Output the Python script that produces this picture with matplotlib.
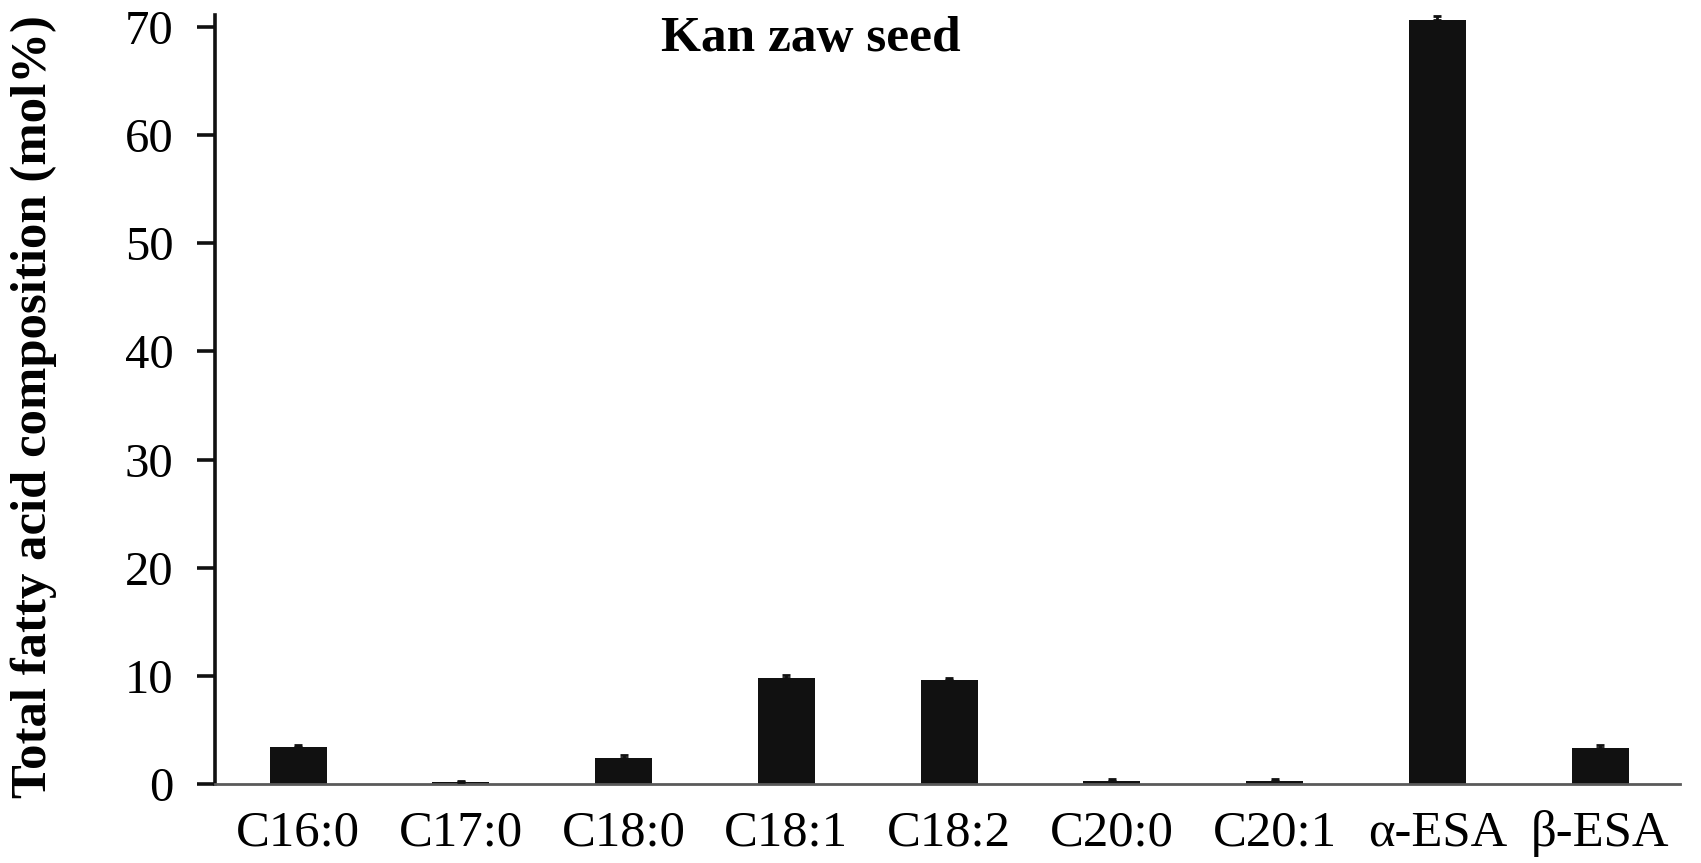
import matplotlib
matplotlib.use("Agg")
import matplotlib.pyplot as plt
import numpy as np

categories = ["C16:0", "C17:0", "C18:0", "C18:1", "C18:2", "C20:0", "C20:1", "α-ESA", "β-ESA"]
values = [3.4, 0.2, 2.4, 9.8, 9.6, 0.3, 0.3, 70.6, 3.3]
errors = [0.25, 0.08, 0.3, 0.3, 0.2, 0.12, 0.12, 0.45, 0.3]
yticks = [0, 10, 20, 30, 40, 50, 60, 70]

plt.rcParams['font.family'] = ['Liberation Serif', 'DejaVu Serif']

W, H = 1701, 863
fig = plt.figure(figsize=(W / 100, H / 100), dpi=100)
ax = fig.add_axes([215 / W, 1 - 784 / H, (1680 - 215) / W, (784 - 15) / H])

x = np.arange(len(categories))
ax.bar(x, values, width=0.35, color="#111111", zorder=2)
ax.errorbar(x, values, yerr=[np.zeros(len(errors)), errors], fmt="none",
            ecolor="#111111", elinewidth=2, capsize=3, capthick=2, zorder=3)

ax.set_xlim(-0.51, 8.49)
ax.set_ylim(0, 71.1)
ax.set_yticks(yticks)
ax.set_xticks(x)
ax.set_xticklabels(categories)

for s in ["top", "right"]:
    ax.spines[s].set_visible(False)
ax.spines["left"].set_linewidth(2.6)
ax.spines["left"].set_color("#111111")
ax.spines["bottom"].set_linewidth(2.0)
ax.spines["bottom"].set_color("#5a5a5a")

ax.tick_params(axis="y", direction="out", length=13, width=2.6, color="#111111",
               labelsize=35, pad=17)
ax.tick_params(axis="x", length=0, labelsize=36.5, pad=19)

fig.text(811 / W, 1 - 39 / H, "Kan zaw seed", fontsize=37, fontweight="bold",
         ha="center", va="center")
fig.text(34 / W, 1 - 407 / H, "Total fatty acid composition (mol%)", fontsize=36.5,
         fontweight="bold", rotation=90, ha="center", va="center")

fig.savefig("out.png", dpi=100)
